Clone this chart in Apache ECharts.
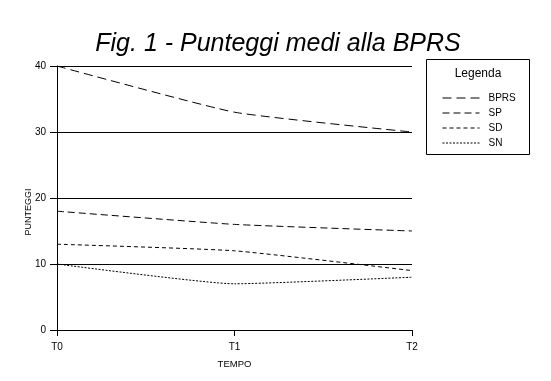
<!DOCTYPE html>
<html>
<head>
<meta charset="utf-8">
<script src="https://cdn.jsdelivr.net/npm/echarts@6/dist/echarts.min.js"></script>
<style>html,body{margin:0;padding:0;background:#fff;}#c{width:551px;height:381px;}</style>
</head>
<body>
<div id="c"></div>
<script>
var categories = ['T0', 'T1', 'T2'];
var seriesNames = ['BPRS', 'SP', 'SD', 'SN'];
var bprs = [40, 33, 30];
var sp = [18, 16, 15];
var sd = [13, 12, 9];
var sn = [10, 7, 8];
var yTicks = [0, 10, 20, 30, 40];

var dashes = [[9, 5], [7, 4], [4, 3], [2, 1.5]];
var values = [bprs, sp, sd, sn];
var font = 'Liberation Sans, Arial, sans-serif';

var chart = echarts.init(document.getElementById('c'), null, {renderer: 'canvas'});
chart.setOption({
  animation: false,
  backgroundColor: '#fff',
  title: {
    text: 'Fig. 1 - Punteggi medi alla BPRS',
    left: 273, top: 27, textAlign: 'center',
    textStyle: {fontSize: 25, fontStyle: 'italic', fontWeight: 'normal', color: '#000', fontFamily: font}
  },
  legend: {
    orient: 'vertical',
    left: 437, top: 88,
    itemWidth: 37, itemHeight: 8, itemGap: 5,
    data: seriesNames,
    itemStyle: {opacity: 0},
    lineStyle: {width: 1},
    textStyle: {fontSize: 10, color: '#000', fontFamily: font, padding: [0, 0, 0, 4]}
  },
  graphic: [
    {type: 'rect', shape: {x: 426.5, y: 59.5, width: 103, height: 95}, style: {fill: 'none', stroke: '#000', lineWidth: 1}},
    {type: 'text', x: 478, y: 74, style: {text: 'Legenda', fontSize: 12, fontFamily: font, fill: '#000', textAlign: 'center', textVerticalAlign: 'middle'}},
    {type: 'text', x: 29, y: 212, rotation: Math.PI / 2, style: {text: 'PUNTEGGI', fontSize: 9, fontFamily: font, fill: '#000', textAlign: 'center', textVerticalAlign: 'middle'}}
  ],
  grid: {left: 57, right: 139, top: 66, bottom: 51},
  xAxis: {
    type: 'category', data: categories, boundaryGap: false,
    name: 'TEMPO', nameLocation: 'middle', nameGap: 29,
    nameTextStyle: {fontSize: 9.5, color: '#000', fontFamily: font},
    axisLine: {lineStyle: {color: '#000', width: 1}},
    axisTick: {show: true, length: 6, lineStyle: {color: '#000'}},
    axisLabel: {fontSize: 10, color: '#000', fontFamily: font, margin: 12}
  },
  yAxis: {
    type: 'value', min: 0, max: 40, interval: 10,
    axisLine: {show: true, lineStyle: {color: '#000', width: 1}},
    axisTick: {show: true, length: 7, lineStyle: {color: '#000'}},
    axisLabel: {fontSize: 10, color: '#000', fontFamily: font, margin: 11,
      formatter: function (v) { return yTicks.indexOf(v) >= 0 ? String(v) : ''; }},
    splitLine: {show: true, lineStyle: {color: '#000', width: 1, type: 'solid'}}
  },
  series: seriesNames.map(function (n, i) {
    return {
      name: n, type: 'line', data: values[i], smooth: 0.15,
      symbol: 'none', silent: true,
      lineStyle: {color: '#000', width: 1, type: dashes[i]},
      itemStyle: {color: '#000'}
    };
  })
});
</script>
</body>
</html>
